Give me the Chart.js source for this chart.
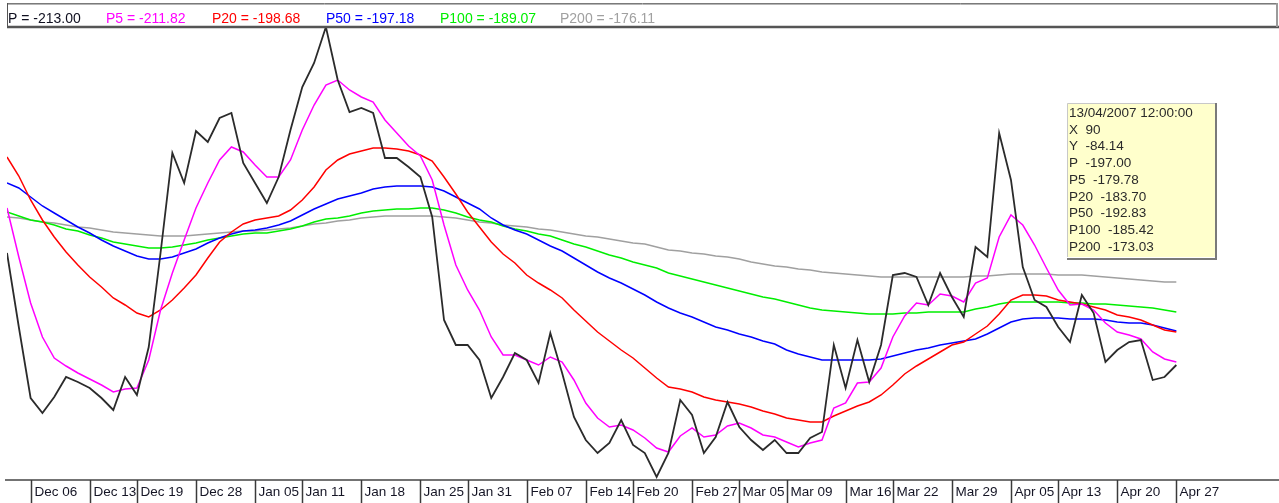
<!DOCTYPE html>
<html>
<head>
<meta charset="utf-8">
<title>P moving averages</title>
<script src="https://cdn.jsdelivr.net/npm/chart.js@4.4.1/dist/chart.umd.min.js"></script>
<style>
    html, body { margin: 0; padding: 0; background: #ffffff; }
    #wrap { position: relative; width: 1279px; height: 503px; }
</style>
</head>
<body>
<div id="wrap"><canvas id="priceChart" width="1279" height="503"></canvas></div>
<script>
// daily closes and their moving averages, one value per trading day (index 0 = first bar)
const pValues = [
    -190.3, -197.7, -204.8, -206.3, -204.7, -202.7, -203.2, -203.8, -204.8, -206.0,
    -202.7, -204.5, -199.7, -190.3, -180.3, -183.3, -178.1, -179.2, -176.8, -176.3,
    -181.3, -183.3, -185.3, -182.7, -178.0, -173.7, -171.3, -167.7, -173.0, -176.2,
    -175.8, -176.3, -180.8, -180.8, -181.7, -182.7, -186.7, -197.0, -199.5, -199.5,
    -201.0, -204.8, -202.7, -200.3, -201.0, -203.3, -198.3, -202.3, -206.7, -209.0,
    -210.3, -209.3, -207.0, -209.5, -210.3, -212.7, -210.3, -205.0, -206.5, -210.3,
    -208.7, -205.2, -207.7, -209.0, -210.0, -209.0, -210.3, -210.3, -208.8, -208.2,
    -199.5, -203.8, -199.0, -203.2, -199.5, -192.5, -192.3, -192.7, -195.5, -192.3,
    -194.7, -196.7, -189.7, -190.7, -178.3, -183.0, -191.7, -195.0, -195.7, -197.7,
    -199.2, -194.5, -196.3, -201.2, -200.0, -199.2, -199.0, -203.0, -202.7, -201.5
];
const p5Values = [
    -185.8, -190.7, -195.3, -198.7, -200.8, -201.6, -202.3, -202.9, -203.5, -204.2,
    -203.9, -203.8, -201.0, -196.0, -192.3, -189.0, -185.8, -183.3, -181.0, -179.7,
    -180.2, -181.5, -182.7, -182.7, -181.0, -178.0, -175.5, -173.5, -173.0, -174.0,
    -174.7, -175.2, -177.0, -178.3, -179.6, -180.6, -183.0, -187.5, -191.5, -194.0,
    -196.0, -198.7, -200.5, -200.5, -201.0, -201.5, -200.7, -201.2, -203.0, -205.3,
    -206.8, -207.7, -207.5, -208.0, -208.8, -209.8, -210.2, -208.6, -207.8, -208.7,
    -208.5, -207.6, -207.3, -207.8, -208.5, -208.7, -209.2, -209.7, -209.3, -209.0,
    -205.8, -205.3, -203.3, -203.2, -201.8, -198.7, -196.6, -195.3, -195.5, -194.4,
    -194.6, -195.2, -193.3, -192.8, -188.7, -186.5, -187.5, -189.5, -191.8, -194.0,
    -195.5, -195.4, -196.0, -197.3, -198.2, -198.5, -198.9, -200.2, -200.9, -201.2
];
const p20Values = [
    -180.7, -182.6, -185.0, -187.0, -188.7, -190.2, -191.5, -192.7, -193.7, -194.8,
    -195.5, -196.3, -196.7, -196.0, -195.0, -193.8, -192.5, -190.8, -189.2, -188.2,
    -187.4, -187.0, -186.8, -186.6, -186.0, -185.0, -183.7, -182.0, -181.0, -180.4,
    -180.1, -179.8, -179.8, -179.9, -180.1, -180.5, -181.1, -182.7, -184.4, -186.2,
    -187.7, -189.2, -190.4, -191.3, -192.5, -193.3, -194.0, -194.8, -196.0, -197.1,
    -198.2, -199.1, -200.0, -200.8, -201.8, -202.8, -203.7, -203.9, -204.2, -204.7,
    -205.0, -205.2, -205.4, -205.7, -206.1, -206.4, -206.8, -207.0, -207.2, -207.2,
    -206.6, -206.1, -205.6, -205.2, -204.5, -203.5, -202.4, -201.6, -200.9, -200.2,
    -199.5, -199.2, -198.4, -197.6, -196.4, -195.0, -194.5, -194.5, -194.6, -195.0,
    -195.2, -195.4, -195.7, -196.0, -196.5, -196.7, -197.0, -197.5, -198.0, -198.2
];
const p50Values = [
    -183.3, -183.8, -184.7, -185.6, -186.3, -187.0, -187.7, -188.3, -189.0, -189.6,
    -190.1, -190.6, -190.9, -190.9, -190.7, -190.3, -189.9, -189.3, -188.8, -188.4,
    -188.1, -188.0, -187.8, -187.5, -187.1, -186.5, -185.9, -185.4, -184.9, -184.6,
    -184.3, -183.9, -183.7, -183.6, -183.6, -183.6, -183.7, -184.1, -184.7, -185.3,
    -185.9, -186.8, -187.5, -188.0, -188.4, -189.0, -189.6, -190.1, -190.8, -191.5,
    -192.2, -192.8, -193.3, -193.9, -194.5, -195.2, -195.8, -196.3, -196.7, -197.2,
    -197.7, -198.0, -198.4, -198.7, -199.1, -199.4, -200.0, -200.4, -200.7, -201.0,
    -201.0, -201.0, -201.0, -201.0, -200.9, -200.6, -200.3, -200.0, -199.8, -199.5,
    -199.3, -199.1, -198.9, -198.4, -197.8, -197.2, -196.9, -196.8, -196.8, -196.8,
    -196.9, -196.9, -196.9, -197.0, -197.2, -197.3, -197.3, -197.5, -197.8, -198.1
];
const p100Values = [
    -186.2, -186.6, -187.0, -187.2, -187.5, -187.9, -188.1, -188.5, -188.8, -189.2,
    -189.4, -189.6, -189.8, -189.8, -189.7, -189.5, -189.3, -189.0, -188.8, -188.6,
    -188.4, -188.3, -188.3, -188.1, -187.9, -187.6, -187.2, -186.9, -186.8, -186.6,
    -186.3, -186.1, -186.0, -185.9, -185.9, -185.8, -185.8, -186.0, -186.3, -186.7,
    -187.0, -187.2, -187.6, -187.9, -188.1, -188.4, -188.6, -189.0, -189.4, -189.7,
    -190.1, -190.5, -190.8, -191.2, -191.5, -191.8, -192.3, -192.6, -192.9, -193.2,
    -193.5, -193.8, -194.1, -194.4, -194.7, -194.9, -195.2, -195.5, -195.8, -196.0,
    -196.1, -196.2, -196.3, -196.4, -196.4, -196.4, -196.3, -196.3, -196.2, -196.2,
    -196.2, -196.2, -195.9, -195.7, -195.4, -195.2, -195.2, -195.2, -195.2, -195.2,
    -195.3, -195.3, -195.4, -195.4, -195.5, -195.6, -195.7, -195.8, -196.0, -196.2
];
const p200Values = [
    -186.7, -186.8, -187.0, -187.2, -187.3, -187.5, -187.7, -187.8, -188.0, -188.2,
    -188.3, -188.4, -188.5, -188.6, -188.6, -188.6, -188.5, -188.4, -188.3, -188.2,
    -188.1, -188.1, -188.0, -187.9, -187.8, -187.6, -187.4, -187.3, -187.1, -187.0,
    -186.8, -186.7, -186.6, -186.6, -186.6, -186.6, -186.6, -186.7, -186.8, -187.0,
    -187.2, -187.3, -187.5, -187.6, -187.7, -187.9, -188.0, -188.2, -188.4, -188.6,
    -188.7, -188.9, -189.1, -189.3, -189.4, -189.7, -190.0, -190.1, -190.3, -190.4,
    -190.6, -190.7, -190.9, -191.2, -191.4, -191.6, -191.7, -191.9, -192.0, -192.2,
    -192.3, -192.4, -192.5, -192.6, -192.7, -192.7, -192.7, -192.7, -192.7, -192.7,
    -192.7, -192.7, -192.6, -192.6, -192.5, -192.4, -192.4, -192.4, -192.4, -192.5,
    -192.5, -192.5, -192.6, -192.7, -192.8, -192.9, -193.0, -193.1, -193.2, -193.2
];

// date strip: which bar each label sits on
const tickLabels = ['Dec 06', 'Dec 13', 'Dec 19', 'Dec 28', 'Jan 05', 'Jan 11', 'Jan 18', 'Jan 25',
    'Jan 31', 'Feb 07', 'Feb 14', 'Feb 20', 'Feb 27', 'Mar 05', 'Mar 09', 'Mar 16', 'Mar 22',
    'Mar 29', 'Apr 05', 'Apr 13', 'Apr 20', 'Apr 27'];
const tickIndex = [2, 7, 11, 16, 21, 25, 30, 35, 39, 44, 49, 53, 58, 62, 66, 71, 75, 80, 85, 89, 94, 99];

// header readout (values under the cursor) and the hover box
const seriesNames = ['P', 'P5', 'P20', 'P50', 'P100', 'P200'];
const cursorValues = ['-213.00', '-211.82', '-198.68', '-197.18', '-189.07', '-176.11'];
const seriesColors = ['#2b2b2b', '#ff00ff', '#ff0000', '#0000ff', '#00ee00', '#a0a0a0'];
const tipLines = ['13/04/2007 12:00:00', 'X  90', 'Y  -84.14', 'P  -197.00', 'P5  -179.78',
    'P20  -183.70', 'P50  -192.83', 'P100  -185.42', 'P200  -173.03'];

const allSeries = [pValues, p5Values, p20Values, p50Values, p100Values, p200Values];

function toPoints(values) {
    return values.map((v, i) => ({ x: i, y: v }));
}

/**
 * Draws the header strip, the date strip and the hover box
 */
const chromePlugin = {
    id: 'chrome',
    afterDraw(chart) {
        const ctx = chart.ctx;
        const xScale = chart.scales.x;
        const font = '"Liberation Sans", Arial, sans-serif';

        ctx.save();

        // header strip
        ctx.lineWidth = 1;
        ctx.strokeStyle = '#7a7a7a';
        ctx.beginPath(); ctx.moveTo(7, 3.5); ctx.lineTo(1278, 3.5); ctx.stroke();
        ctx.strokeStyle = '#b5b5b5';
        ctx.beginPath(); ctx.moveTo(7, 4.5); ctx.lineTo(1278, 4.5); ctx.stroke();
        ctx.strokeStyle = '#555555';
        ctx.lineWidth = 2.5;
        ctx.beginPath(); ctx.moveTo(7, 27); ctx.lineTo(1279, 27); ctx.stroke();
        ctx.lineWidth = 1;
        ctx.beginPath(); ctx.moveTo(7.5, 3); ctx.lineTo(7.5, 27); ctx.stroke();
        ctx.strokeStyle = '#9a9a9a';
        ctx.lineWidth = 2;
        ctx.beginPath(); ctx.moveTo(1277, 3); ctx.lineTo(1277, 27); ctx.stroke();

        const headerX = [8, 106, 212, 326, 440, 560];
        ctx.font = '14px ' + font;
        ctx.textAlign = 'left';
        ctx.textBaseline = 'alphabetic';
        seriesNames.forEach((name, i) => {
            ctx.fillStyle = i === 0 ? '#101020' : seriesColors[i];
            ctx.fillText(name + ' = ' + cursorValues[i], headerX[i], 23);
        });

        // date strip
        ctx.strokeStyle = '#444444';
        ctx.lineWidth = 1.5;
        ctx.beginPath(); ctx.moveTo(5, 480); ctx.lineTo(1279, 480); ctx.stroke();
        ctx.font = '13.5px ' + font;
        ctx.fillStyle = '#151525';
        tickIndex.forEach((idx, i) => {
            const px = Math.round(xScale.getPixelForValue(idx)) + 0.5;
            ctx.strokeStyle = '#3a3a3a';
            ctx.lineWidth = 1.5;
            ctx.beginPath(); ctx.moveTo(px, 480); ctx.lineTo(px, 503); ctx.stroke();
            ctx.fillText(tickLabels[i], px + 3, 496);
        });

        // hover box
        const bx = 1067, by = 103, bw = 148, bh = 154;
        ctx.fillStyle = '#ffffcc';
        ctx.fillRect(bx, by, bw, bh);
        ctx.strokeStyle = '#c8c8c8';
        ctx.lineWidth = 1;
        ctx.beginPath(); ctx.moveTo(bx + 0.5, by + bh); ctx.lineTo(bx + 0.5, by + 0.5); ctx.lineTo(bx + bw, by + 0.5); ctx.stroke();
        ctx.strokeStyle = '#7a7a7a';
        ctx.lineWidth = 2;
        ctx.beginPath(); ctx.moveTo(bx + bw + 1, by); ctx.lineTo(bx + bw + 1, by + bh + 2); ctx.lineTo(bx, by + bh + 2); ctx.stroke();

        ctx.fillStyle = '#2a2a2a';
        ctx.font = '13.5px ' + font;
        tipLines.forEach((t, i) => {
            ctx.fillText(t, bx + 2, by + 14 + i * 16.7);
        });

        ctx.restore();
    }
};

const priceChart = new Chart(document.getElementById('priceChart'), {
    type: 'line',
    data: {
        datasets: allSeries.map((values, i) => ({
            label: seriesNames[i],
            data: toPoints(values),
            borderColor: seriesColors[i],
            borderWidth: i === 0 ? 1.8 : 1.5,
            pointRadius: 0,
            tension: 0,
            fill: false
        }))
    },
    options: {
        responsive: false,
        animation: false,
        layout: { padding: { left: 7, right: 7, top: 26, bottom: 24 } },
        plugins: {
            legend: { display: false },
            tooltip: { enabled: false }
        },
        scales: {
            x: { type: 'linear', display: false, min: 0, max: 107.1 },
            y: { display: false, min: -212.9, max: -167.6 }
        }
    },
    plugins: [chromePlugin]
});
</script>
</body>
</html>
